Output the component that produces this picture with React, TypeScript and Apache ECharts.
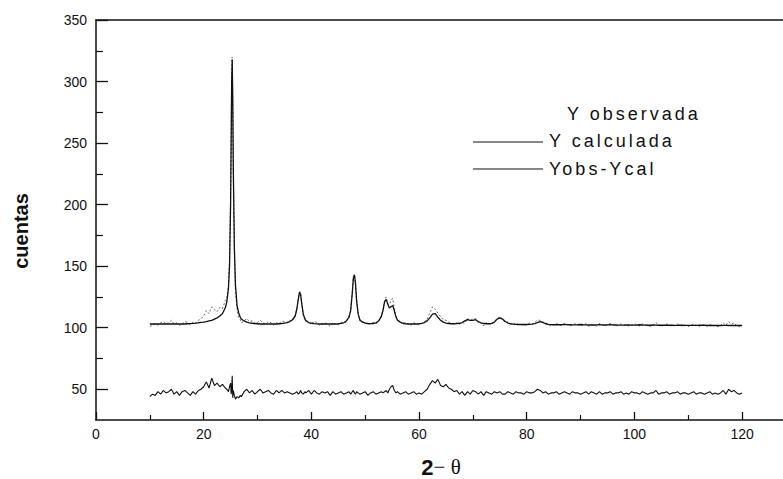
import React, { useEffect, useRef } from "react";
import * as echarts from "echarts";

// 2-theta positions (degrees)
const twoTheta = [
  10, 10.5, 11, 11.5, 12, 12.5, 13, 13.5, 14, 14.5, 15, 15.5, 16, 16.5, 17, 17.5, 18, 18.5, 19, 19.5, 20, 20.5, 21, 21.5, 22, 22.5, 23, 23.5,
  24, 24.3, 24.6, 24.8, 25, 25.1, 25.2, 25.3, 25.4, 25.5, 25.7, 25.9, 26.2, 26.5, 26.8,
  27, 27.5, 28, 28.5, 29, 29.5, 30, 30.5, 31, 31.5, 32, 32.5, 33, 33.5, 34, 34.5, 35, 35.5, 36, 36.5, 37,
  37.3, 37.6, 37.8, 38, 38.2, 38.5, 38.8,
  39, 39.5, 40, 40.5, 41, 41.5, 42, 42.5, 43, 43.5, 44, 44.5, 45, 45.5, 46, 46.5, 47,
  47.3, 47.6, 47.8, 48, 48.2, 48.4, 48.7,
  49, 49.5, 50, 50.5, 51, 51.5, 52, 52.5, 53,
  53.3, 53.6, 53.9, 54.2, 54.5, 54.8, 55.1, 55.4, 55.7,
  56, 56.5, 57, 57.5, 58, 58.5, 59, 59.5, 60, 60.5, 61, 61.5, 62, 62.5, 63, 63.5, 64, 64.5, 65, 65.5,
  66, 66.5, 67, 67.5, 68, 68.5, 69, 69.5, 70, 70.5, 71, 71.5, 72, 72.5, 73, 73.5, 74, 74.5, 75, 75.5,
  76, 76.5, 77, 77.5, 78, 78.5, 79, 79.5, 80, 80.5, 81, 81.5, 82, 82.5, 83, 83.5, 84, 84.5, 85,
  85.5, 86, 86.5, 87, 87.5, 88, 88.5, 89, 89.5, 90, 90.5, 91, 91.5, 92, 92.5, 93, 93.5, 94, 94.5, 95,
  95.5, 96, 96.5, 97, 97.5, 98, 98.5, 99, 99.5, 100, 100.5, 101, 101.5, 102, 102.5, 103, 103.5, 104, 104.5, 105,
  105.5, 106, 106.5, 107, 107.5, 108, 108.5, 109, 109.5, 110, 110.5, 111, 111.5, 112, 112.5, 113, 113.5, 114, 114.5, 115,
  115.5, 116, 116.5, 117, 117.5, 118, 118.5, 119, 119.5, 120,
];

// Y calculada
const yCalculada = [
  103, 103, 103, 103, 103, 103, 103, 103, 103, 103, 103, 103, 103, 103, 103.2, 103.3, 103.5, 103.7, 104, 104.3, 104.6, 105, 105.5, 106, 107, 108, 109.5, 111.5,
  116, 121, 132, 150, 200, 250, 300, 318, 285, 230, 165, 135, 118, 112, 108.5,
  107, 105.5, 104.5, 104, 103.6, 103.4, 103.2, 103, 103, 103, 103, 103, 103, 103, 103.2, 103.4, 103.7, 104.2, 105, 106.5, 109.5,
  115, 124, 129, 127, 120, 111, 107,
  105.5, 104.2, 103.6, 103.3, 103.1, 103, 103, 103, 103, 103, 103, 103, 103.2, 103.5, 104, 105.5, 108.5,
  114, 128, 140, 143, 136, 122, 111,
  106.5, 104.5, 103.8, 103.4, 103.3, 103.4, 104, 105.5, 109,
  114, 121, 123, 119, 116, 117, 118, 114, 109,
  106, 104.5, 103.6, 103.2, 103, 103, 103, 103, 103.2, 103.5, 104.2, 105.5, 108, 111, 111.5, 108.5, 106, 104.5, 103.8, 103.4,
  103.2, 103.2, 103.3, 103.6, 104.2, 105.5, 106.5, 106, 106, 106.5, 105, 104, 103.4, 103.2, 103.2, 103.5, 104.5, 107, 108, 107,
  105, 103.8, 103.2, 102.9, 102.7, 102.6, 102.6, 102.6, 102.6, 102.7, 102.9, 103.3, 104.2, 105, 104.3, 103.2, 102.7, 102.5, 102.4,
  102.4, 102.4, 102.5, 102.7, 102.5, 102.4, 102.3, 102.3, 102.4, 102.6, 102.4, 102.3, 102.2, 102.2, 102.2, 102.3, 102.4, 102.3, 102.2, 102.3,
  102.5, 102.3, 102.2, 102.1, 102.1, 102.1, 102.2, 102.2, 102.1, 102.1, 102.2, 102.4, 102.2, 102.1, 102, 102, 102.2, 102.1, 102, 102,
  102, 102, 102.1, 102, 101.9, 101.9, 102.1, 102, 101.9, 101.9, 101.9, 101.9, 101.9, 102, 102.1, 102, 101.9, 101.8, 101.8, 101.8,
  101.8, 101.8, 101.9, 101.9, 101.8, 101.8, 101.8, 101.8, 101.8, 101.8,
];

// Y observada
const yObservada = [
  101, 102, 103, 102, 104, 105, 103, 104, 106, 103, 104, 102, 103, 105, 104.2, 102.3, 104.5, 103.7, 106, 107.3, 109.6, 114, 111.5, 117, 115, 113, 116.5, 115.5,
  122, 124, 134, 155, 208, 249, 303, 320, 282, 232, 163, 130, 115, 108, 106.5,
  104, 105.5, 107.5, 105, 105.6, 103.4, 104.2, 106, 104, 103, 105, 104, 102, 104, 103.2, 105.4, 104.7, 104.2, 106, 105.5, 109.5,
  116, 123, 129, 129, 120, 110, 108,
  105.5, 105.2, 102.6, 105.3, 104.1, 102, 103, 104, 103, 101, 104, 103, 102.2, 104.5, 104, 104.5, 109.5,
  113, 129, 142, 143, 135, 123, 111,
  105.5, 104.5, 104.8, 102.4, 103.3, 104.4, 103, 105.5, 110,
  114, 122, 125, 119, 119, 122, 124, 116, 109,
  107, 104.5, 102.6, 104.2, 103, 102, 104, 103, 102.2, 103.5, 105, 107, 112, 117, 115, 112, 109, 106.5, 106, 104.4,
  104, 103, 104, 102.6, 104.2, 103.5, 107.5, 106, 107, 107.5, 104, 104, 101.4, 104.2, 103.2, 102.5, 105.5, 107, 109, 107,
  104, 104.8, 103.2, 102.9, 103.7, 102.6, 102.6, 101.6, 102.6, 103.7, 102.9, 104.3, 106.2, 106, 104.3, 104.2, 102.7, 101.5, 102.4,
  103.4, 102.4, 101.5, 103.7, 102.5, 101.4, 102.3, 103.3, 102.4, 101.6, 102.4, 103.3, 101.2, 102.2, 102.2, 101.3, 103.4, 102.3, 101.2, 102.3,
  103.5, 102.3, 101.2, 102.1, 103.1, 102.1, 102.2, 101.2, 102.1, 103.1, 102.2, 101.4, 103.2, 102.1, 102, 101, 102.2, 104.1, 102, 101,
  102, 103, 102.1, 101, 101.9, 102.9, 102.1, 101, 101.9, 100.9, 101.9, 102.9, 101.9, 101, 102.1, 102, 100.9, 102.8, 101.8, 101.8,
  100.8, 101.8, 103.9, 101.9, 104.8, 102.8, 103.8, 101.8, 100.8, 101.8,
];

// Yobs-Ycal (offset curve)
const yObsMinusCal = [
  44, 46, 45, 48, 46, 49, 47, 48, 50, 46, 48, 45, 48, 49, 47, 45, 48, 46, 49, 50, 52, 56, 51, 59, 53, 55, 52, 54,
  51, 50, 48, 52, 55, 46, 50, 61, 43, 49, 45, 42, 44, 43, 45,
  44, 48, 50, 47, 49, 46, 48, 50, 47, 48, 49, 47, 46, 49, 47, 49, 47, 48, 47, 46, 47,
  48, 46, 47, 49, 47, 46, 48,
  47, 49, 46, 49, 47, 46, 48, 47, 48, 45, 48, 46, 47, 48, 46, 47, 48,
  46, 48, 49, 47, 46, 48, 47,
  46, 47, 48, 45, 47, 48, 46, 47, 48,
  47, 48, 49, 47, 50, 52, 53, 49, 47,
  48, 46, 47, 48, 46, 47, 48, 46, 47, 46, 48, 50, 54, 57, 55, 58, 53, 52, 54, 51,
  50, 48, 49, 46, 48, 45, 48, 46, 49, 48, 46, 48, 45, 48, 47, 46, 48, 47, 48, 46,
  46, 48, 47, 46, 48, 47, 47, 46, 48, 47, 47, 48, 50, 49, 47, 48, 46, 47, 47,
  48, 46, 47, 48, 47, 46, 48, 47, 47, 46, 47, 48, 46, 48, 47, 46, 48, 46, 47, 47,
  48, 46, 47, 47, 48, 46, 47, 46, 48, 47, 47, 46, 48, 47, 46, 47, 47, 49, 46, 47,
  47, 48, 46, 47, 47, 48, 46, 47, 47, 46, 47, 48, 46, 47, 47, 46, 47, 48, 46, 47,
  46, 47, 49, 46, 50, 48, 49, 47, 46, 47,
];

const xMajorTicks = [0, 20, 40, 60, 80, 100, 120];
const xMinorTicks = [10, 30, 50, 70, 90, 110];
const yMajorTicks = [50, 100, 150, 200, 250, 300, 350];
const yMinorTicks = [75, 125, 175, 225, 275, 325];

const legendLabels = ["Y observada", "Y calculada", "Yobs-Ycal"];

function zip(xs: number[], ys: number[]) {
  const n = Math.min(xs.length, ys.length);
  const out: number[][] = [];
  for (let i = 0; i < n; i++) out.push([xs[i], ys[i]]);
  return out;
}

export default function App() {
  const ref = useRef<HTMLDivElement>(null);
  useEffect(() => {
    if (!ref.current) return;
    const chart = echarts.init(ref.current, null, { renderer: "svg" });
    const font = "'Liberation Sans', Arial, sans-serif";
    const legendFont = "'Liberation Sans', Arial, sans-serif";
    const ink = "#111";
    const X0 = 0, X1 = 127.6, Y0 = 25, Y1 = 350;
    const baseX = {
      type: "value" as const,
      min: X0,
      max: X1,
      splitLine: { show: false },
    };
    const baseY = {
      type: "value" as const,
      min: Y0,
      max: Y1,
      splitLine: { show: false },
    };
    chart.setOption({
      animation: false,
      grid: { left: 96, top: 20, right: 0, bottom: 59 },
      xAxis: [
        {
          ...baseX,
          position: "bottom",
          axisLine: { show: true, lineStyle: { color: ink, width: 1.5 } },
          axisTick: { show: true, inside: true, length: 8, customValues: xMajorTicks, lineStyle: { color: ink, width: 1.3 } },
          axisLabel: { show: true, customValues: xMajorTicks, margin: 7, color: ink, fontSize: 14, fontFamily: font },
        },
        {
          ...baseX,
          position: "bottom",
          axisLine: { show: false },
          axisTick: { show: true, inside: true, length: 5, customValues: xMinorTicks, lineStyle: { color: ink, width: 1.2 } },
          axisLabel: { show: false },
        },
        {
          ...baseX,
          position: "top",
          axisLine: { show: true, lineStyle: { color: ink, width: 1.5 } },
          axisTick: { show: false },
          axisLabel: { show: false },
        },
      ],
      yAxis: [
        {
          ...baseY,
          position: "left",
          axisLine: { show: true, lineStyle: { color: ink, width: 1.5 } },
          axisTick: { show: true, inside: true, length: 12, customValues: yMajorTicks, lineStyle: { color: ink, width: 1.3 } },
          axisLabel: { show: true, customValues: yMajorTicks, margin: 9, color: ink, fontSize: 14, fontFamily: font },
        },
        {
          ...baseY,
          position: "left",
          axisLine: { show: false },
          axisTick: { show: true, inside: true, length: 7, customValues: yMinorTicks, lineStyle: { color: ink, width: 1.2 } },
          axisLabel: { show: false },
        },
      ],
      series: [
        {
          name: legendLabels[0],
          type: "line",
          data: zip(twoTheta, yObservada),
          showSymbol: false,
          lineStyle: { color: "#666", width: 1, type: [2, 2] },
          z: 2,
        },
        {
          name: legendLabels[1],
          type: "line",
          data: zip(twoTheta, yCalculada),
          showSymbol: false,
          lineStyle: { color: ink, width: 1.3 },
          z: 3,
        },
        {
          name: legendLabels[2],
          type: "line",
          data: zip(twoTheta, yObsMinusCal),
          showSymbol: false,
          lineStyle: { color: ink, width: 1.1 },
          z: 3,
        },
      ],
      graphic: [
        {
          type: "text",
          x: 21,
          y: 231,
          rotation: Math.PI / 2,
          style: { text: "cuentas", fontSize: 20, fontWeight: "bold", fontFamily: font, fill: ink, align: "center", verticalAlign: "middle" },
        },
        {
          type: "text",
          x: 441,
          y: 467,
          style: {
            text: "{a|2}{b|− θ}",
            fontFamily: font,
            fill: ink,
            align: "center",
            verticalAlign: "middle",
            rich: {
              a: { fontSize: 22, fontWeight: "bold", fontFamily: font, fill: ink },
              b: { fontSize: 21, fontFamily: "'Liberation Serif', 'DejaVu Serif', serif", fill: ink },
            },
          },
        },
        {
          type: "text",
          x: 567,
          y: 114,
          style: { text: legendLabels[0], fontSize: 18, fontFamily: legendFont, fill: ink, align: "left", verticalAlign: "middle" },
        },
        {
          type: "line",
          shape: { x1: 473, y1: 142, x2: 543, y2: 142 },
          style: { stroke: ink, lineWidth: 1.2 },
        },
        {
          type: "text",
          x: 549,
          y: 141,
          style: { text: legendLabels[1], fontSize: 18, fontFamily: legendFont, fill: ink, align: "left", verticalAlign: "middle" },
        },
        {
          type: "line",
          shape: { x1: 473, y1: 169, x2: 543, y2: 169 },
          style: { stroke: ink, lineWidth: 1.1 },
        },
        {
          type: "text",
          x: 549,
          y: 169,
          style: { text: legendLabels[2], fontSize: 18, fontFamily: legendFont, fill: ink, align: "left", verticalAlign: "middle" },
        },
      ],
    });
    return () => chart.dispose();
  }, []);
  return (
    <>
      <style>{`#xrd-chart text[style*="18px"] { letter-spacing: 3px; }`}</style>
      <div id="xrd-chart" ref={ref} style={{ position: "fixed", left: 0, top: 0, width: 783, height: 479, background: "#fff" }} />
    </>
  );
}
